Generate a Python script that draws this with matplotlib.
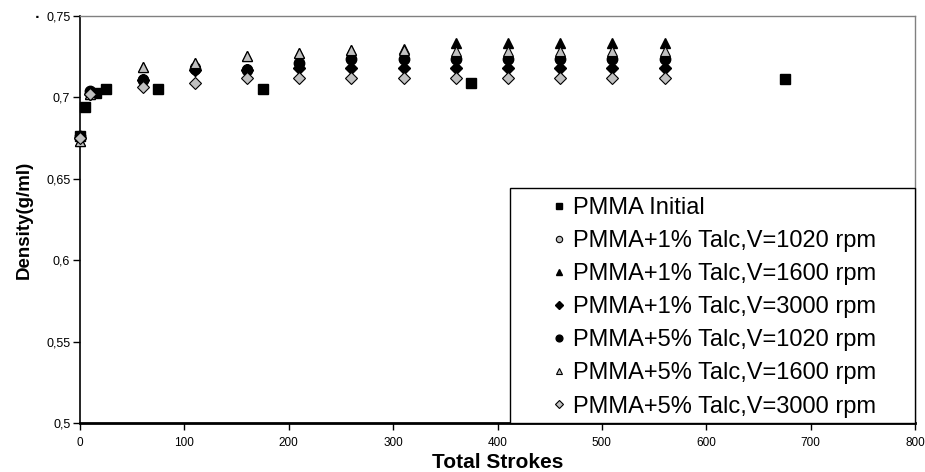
import matplotlib
matplotlib.use("Agg")
import matplotlib.pyplot as plt
from matplotlib.ticker import FuncFormatter
from matplotlib.patches import Rectangle

# ---- data ----
x_initial = [0, 5, 15, 25, 75, 175, 375, 675]
y_initial = [0.676, 0.694, 0.7025, 0.705, 0.705, 0.705, 0.7087, 0.711]

x_talc = [0, 10, 60, 110, 160, 210, 260, 310, 360, 410, 460, 510, 560]
y_1_1020 = [0.676, 0.703, 0.711, 0.7185, 0.7172, 0.7214, 0.7234, 0.7234, 0.7234, 0.7234, 0.7234, 0.7234, 0.7234]
y_1_1600 = [0.673, 0.702, 0.7185, 0.721, 0.7255, 0.7275, 0.729, 0.730, 0.7336, 0.7336, 0.7336, 0.7336, 0.7336]
y_1_3000 = [0.675, 0.702, 0.7105, 0.7168, 0.7167, 0.718, 0.718, 0.718, 0.718, 0.718, 0.718, 0.718, 0.718]
y_5_1020 = [0.676, 0.704, 0.7105, 0.7173, 0.7167, 0.7214, 0.7234, 0.7234, 0.7234, 0.7234, 0.7234, 0.7234, 0.7234]
y_5_1600 = [0.673, 0.702, 0.7185, 0.721, 0.7255, 0.7275, 0.729, 0.729, 0.7288, 0.7288, 0.7288, 0.7288, 0.7288]
y_5_3000 = [0.675, 0.702, 0.7063, 0.709, 0.7122, 0.7122, 0.7122, 0.712, 0.7121, 0.7121, 0.7121, 0.7121, 0.7121]

labels = ["PMMA Initial",
          "PMMA+1% Talc,V=1020 rpm",
          "PMMA+1% Talc,V=1600 rpm",
          "PMMA+1% Talc,V=3000 rpm",
          "PMMA+5% Talc,V=1020 rpm",
          "PMMA+5% Talc,V=1600 rpm",
          "PMMA+5% Talc,V=3000 rpm"]

x_ticks = [0, 100, 200, 300, 400, 500, 600, 700, 800]
y_ticks = [0.5, 0.55, 0.6, 0.65, 0.7, 0.75]

gray = "#c0c0c0"
series = [
    (x_initial, y_initial, dict(marker="s", ms=6.5, mfc="black", mec="black")),
    (x_talc, y_1_1020, dict(marker="o", ms=7, mfc=gray, mec="black", mew=0.8)),
    (x_talc, y_1_1600, dict(marker="^", ms=7.5, mfc="black", mec="black")),
    (x_talc, y_1_3000, dict(marker="D", ms=6, mfc="black", mec="black")),
    (x_talc, y_5_1020, dict(marker="o", ms=7.5, mfc="black", mec="black")),
    (x_talc, y_5_1600, dict(marker="^", ms=7.5, mfc=gray, mec="black", mew=0.8)),
    (x_talc, y_5_3000, dict(marker="D", ms=6, mfc=gray, mec="black", mew=0.8)),
]

W, H = 925, 472
fig = plt.figure(figsize=(W / 100, H / 100), dpi=100)
ax = fig.add_axes([80 / W, 49 / H, 835 / W, 407 / H])

for (xs, ys, st), lab in zip(series, labels):
    ax.plot(xs, ys, linestyle="none", label=lab, clip_on=False, zorder=3, **st)

ax.set_xlim(0, 800)
ax.set_ylim(0.5, 0.75)
ax.set_xticks(x_ticks)
ax.set_yticks(y_ticks)

fam = ["Liberation Sans", "DejaVu Sans"]
ax.xaxis.set_major_formatter(FuncFormatter(lambda v, p: f"{int(v)}"))
ax.yaxis.set_major_formatter(FuncFormatter(lambda v, p: f"{v:g}".replace(".", ",")))
for lbl in ax.get_xticklabels():
    lbl.set_family(fam)
    lbl.set_fontsize(8.5)
for lbl in ax.get_yticklabels():
    lbl.set_family(fam)
    lbl.set_fontsize(9)
ax.tick_params(axis="both", direction="out", length=5, width=1, color="black")
ax.tick_params(axis="x", pad=5)
ax.tick_params(axis="y", pad=2)

for s in ["top", "right"]:
    ax.spines[s].set_color("#808080")
    ax.spines[s].set_linewidth(1)
ax.spines["left"].set_color("black")
ax.spines["left"].set_linewidth(1.2)
ax.spines["bottom"].set_color("black")
ax.spines["bottom"].set_linewidth(2)

ax.set_xlabel("Total Strokes", fontsize=15, fontweight="bold", family=fam)
ax.xaxis.set_label_coords(0.5, -0.074)
ax.set_ylabel("Density(g/ml)", fontsize=13.5, fontweight="bold", family=fam)
ax.yaxis.set_label_coords(-0.056, 0.5)

# legend box (drawn as a frame) and legend entries
ax.add_patch(Rectangle(((510 - 80) / 835, 0), 1 - (510 - 80) / 835, (423 - 188) / 407,
                       transform=ax.transAxes, facecolor="white", edgecolor="black",
                       linewidth=1.0, zorder=4, clip_on=False))
handles, labs = ax.get_legend_handles_labels()
leg = ax.legend(handles, labs, loc="upper left",
                bbox_to_anchor=((550 - 80) / 835, (423 - 197) / 407),
                prop={"family": fam, "size": 17},
                markerscale=0.65, frameon=False, borderpad=0.0,
                labelspacing=0.47, handletextpad=0.19, handlelength=0.8,
                borderaxespad=0.0)
leg.set_zorder(5)

fig.text(37 / W, 1 - 14 / H, ".", fontsize=9, fontweight="bold", ha="center", va="center")

fig.savefig("out.png", dpi=100)
